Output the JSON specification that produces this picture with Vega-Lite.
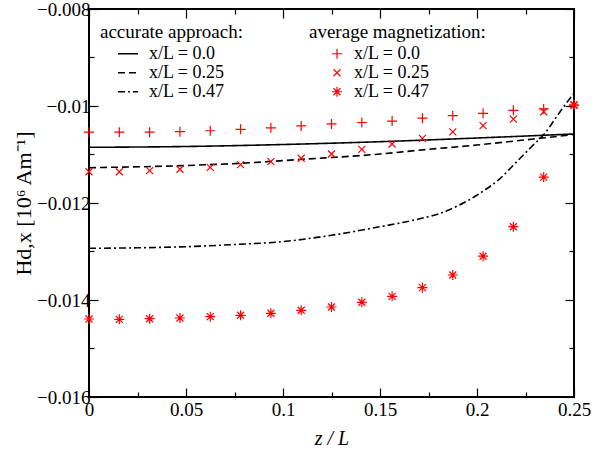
{
  "$schema": "https://vega.github.io/schema/vega-lite/v6.json",
  "width": 485,
  "height": 388,
  "autosize": "none",
  "padding": {"left": 89, "top": 9, "right": 41, "bottom": 55},
  "background": "white",
  "config": {
    "font": "Liberation Serif",
    "view": {"stroke": "black", "strokeWidth": 2},
    "axis": {"grid": false, "domain": false, "labelColor": "black", "tickColor": "black", "titleColor": "black", "labelFont": "Liberation Serif", "titleFont": "Liberation Serif", "labelFontSize": 19, "titleFontWeight": "normal", "labelFlush": false, "labelOverlap": false, "tickWidth": 1.2},
    "legend": {"labelFont": "Liberation Serif", "titleFont": "Liberation Serif", "labelColor": "black", "titleColor": "black", "titleFontWeight": "normal", "titleFontSize": 19, "labelFontSize": 18, "padding": 0, "rowPadding": 0, "titlePadding": 3, "clipHeight": 17.5}
  },
  "datasets": {
    "curves": [
      {"z": 0, "H": -0.010852, "curve": "acc 0.0"},
      {"z": 0.05, "H": -0.010835, "curve": "acc 0.0"},
      {"z": 0.1, "H": -0.010794, "curve": "acc 0.0"},
      {"z": 0.15, "H": -0.010736, "curve": "acc 0.0"},
      {"z": 0.2, "H": -0.01066, "curve": "acc 0.0"},
      {"z": 0.25, "H": -0.010577, "curve": "acc 0.0"},
      {"z": 0, "H": -0.011272, "curve": "acc 0.25"},
      {"z": 0.05, "H": -0.011227, "curve": "acc 0.25"},
      {"z": 0.078, "H": -0.011181, "curve": "acc 0.25"},
      {"z": 0.11, "H": -0.011099, "curve": "acc 0.25"},
      {"z": 0.15, "H": -0.01099, "curve": "acc 0.25"},
      {"z": 0.17, "H": -0.010912, "curve": "acc 0.25"},
      {"z": 0.2, "H": -0.010804, "curve": "acc 0.25"},
      {"z": 0.235, "H": -0.010654, "curve": "acc 0.25"},
      {"z": 0.25, "H": -0.010588, "curve": "acc 0.25"},
      {"z": 0, "H": -0.012934, "curve": "acc 0.47"},
      {"z": 0.025, "H": -0.012924, "curve": "acc 0.47"},
      {"z": 0.05, "H": -0.012901, "curve": "acc 0.47"},
      {"z": 0.075, "H": -0.012856, "curve": "acc 0.47"},
      {"z": 0.1, "H": -0.012795, "curve": "acc 0.47"},
      {"z": 0.125, "H": -0.012665, "curve": "acc 0.47"},
      {"z": 0.15, "H": -0.012489, "curve": "acc 0.47"},
      {"z": 0.17, "H": -0.01233, "curve": "acc 0.47"},
      {"z": 0.18, "H": -0.012225, "curve": "acc 0.47"},
      {"z": 0.19, "H": -0.01206, "curve": "acc 0.47"},
      {"z": 0.2015, "H": -0.0118, "curve": "acc 0.47"},
      {"z": 0.212, "H": -0.011491, "curve": "acc 0.47"},
      {"z": 0.2205, "H": -0.011148, "curve": "acc 0.47"},
      {"z": 0.229, "H": -0.010804, "curve": "acc 0.47"},
      {"z": 0.235, "H": -0.010563, "curve": "acc 0.47"},
      {"z": 0.241, "H": -0.010221, "curve": "acc 0.47"},
      {"z": 0.246, "H": -0.009944, "curve": "acc 0.47"},
      {"z": 0.25, "H": -0.009738, "curve": "acc 0.47"}
    ],
    "avg": [
      {"z": 0, "H": -0.01054, "set": "avg 0.0"},
      {"z": 0.015625, "H": -0.01054, "set": "avg 0.0"},
      {"z": 0.03125, "H": -0.01054, "set": "avg 0.0"},
      {"z": 0.046875, "H": -0.01053, "set": "avg 0.0"},
      {"z": 0.0625, "H": -0.01051, "set": "avg 0.0"},
      {"z": 0.078125, "H": -0.01048, "set": "avg 0.0"},
      {"z": 0.09375, "H": -0.01045, "set": "avg 0.0"},
      {"z": 0.109375, "H": -0.01041, "set": "avg 0.0"},
      {"z": 0.125, "H": -0.01037, "set": "avg 0.0"},
      {"z": 0.140625, "H": -0.01034, "set": "avg 0.0"},
      {"z": 0.15625, "H": -0.01031, "set": "avg 0.0"},
      {"z": 0.171875, "H": -0.01025, "set": "avg 0.0"},
      {"z": 0.1875, "H": -0.0102, "set": "avg 0.0"},
      {"z": 0.203125, "H": -0.01015, "set": "avg 0.0"},
      {"z": 0.21875, "H": -0.01009, "set": "avg 0.0"},
      {"z": 0.234375, "H": -0.01006, "set": "avg 0.0"},
      {"z": 0.25, "H": -0.00998, "set": "avg 0.0"},
      {"z": 0, "H": -0.011355, "set": "avg 0.25"},
      {"z": 0.015625, "H": -0.011355, "set": "avg 0.25"},
      {"z": 0.03125, "H": -0.011334, "set": "avg 0.25"},
      {"z": 0.046875, "H": -0.011305, "set": "avg 0.25"},
      {"z": 0.0625, "H": -0.011264, "set": "avg 0.25"},
      {"z": 0.078125, "H": -0.01121, "set": "avg 0.25"},
      {"z": 0.09375, "H": -0.011148, "set": "avg 0.25"},
      {"z": 0.109375, "H": -0.011078, "set": "avg 0.25"},
      {"z": 0.125, "H": -0.01099, "set": "avg 0.25"},
      {"z": 0.140625, "H": -0.010893, "set": "avg 0.25"},
      {"z": 0.15625, "H": -0.010784, "set": "avg 0.25"},
      {"z": 0.171875, "H": -0.010666, "set": "avg 0.25"},
      {"z": 0.1875, "H": -0.010535, "set": "avg 0.25"},
      {"z": 0.203125, "H": -0.010406, "set": "avg 0.25"},
      {"z": 0.21875, "H": -0.01027, "set": "avg 0.25"},
      {"z": 0.234375, "H": -0.010118, "set": "avg 0.25"},
      {"z": 0.25, "H": -0.009979, "set": "avg 0.25"},
      {"z": 0, "H": -0.014392, "set": "avg 0.47"},
      {"z": 0.015625, "H": -0.014398, "set": "avg 0.47"},
      {"z": 0.03125, "H": -0.014386, "set": "avg 0.47"},
      {"z": 0.046875, "H": -0.014371, "set": "avg 0.47"},
      {"z": 0.0625, "H": -0.014344, "set": "avg 0.47"},
      {"z": 0.078125, "H": -0.014315, "set": "avg 0.47"},
      {"z": 0.09375, "H": -0.014274, "set": "avg 0.47"},
      {"z": 0.109375, "H": -0.014212, "set": "avg 0.47"},
      {"z": 0.125, "H": -0.014144, "set": "avg 0.47"},
      {"z": 0.140625, "H": -0.014047, "set": "avg 0.47"},
      {"z": 0.15625, "H": -0.013924, "set": "avg 0.47"},
      {"z": 0.171875, "H": -0.013746, "set": "avg 0.47"},
      {"z": 0.1875, "H": -0.013485, "set": "avg 0.47"},
      {"z": 0.203125, "H": -0.013097, "set": "avg 0.47"},
      {"z": 0.21875, "H": -0.012489, "set": "avg 0.47"},
      {"z": 0.234375, "H": -0.011465, "set": "avg 0.47"},
      {"z": 0.25, "H": -0.009979, "set": "avg 0.47"}
    ]
  },
  "layer": [
    {
      "data": {"name": "curves"},
      "mark": {"type": "line", "color": "black", "strokeWidth": 1.6, "interpolate": "monotone"},
      "encoding": {
        "x": {
          "field": "z", "type": "quantitative",
          "scale": {"domain": [0, 0.25], "nice": false, "zero": false},
          "axis": {
            "orient": "bottom",
            "values": [0, 0.025, 0.05, 0.075, 0.1, 0.125, 0.15, 0.175, 0.2, 0.225, 0.25],
            "labelExpr": "abs(datum.value*20-round(datum.value*20))<1e-6 ? format(datum.value,'.2~f') : ''",
            "tickSize": {"condition": {"test": "abs(datum.value*20-round(datum.value*20))<1e-6", "value": -9}, "value": -5},
            "labelPadding": 12,
            "title": "z / L",
            "titleFontStyle": "italic",
            "titleFontSize": 20,
            "titlePadding": 5
          }
        },
        "y": {
          "field": "H", "type": "quantitative",
          "scale": {"domain": [-0.016, -0.008], "nice": false, "zero": false},
          "axis": {
            "orient": "left",
            "values": [-0.016, -0.015, -0.014, -0.013, -0.012, -0.011, -0.01, -0.009, -0.008],
            "labelExpr": "abs(datum.value*500-round(datum.value*500))<1e-6 ? format(datum.value,'.3~f') : ''",
            "tickSize": {"condition": {"test": "abs(datum.value*500-round(datum.value*500))<1e-6", "value": -9}, "value": -5},
            "labelPadding": 8,
            "title": "Hd,x [10⁶ Am⁻¹]",
            "titleFontSize": 22,
            "titlePadding": 1
          }
        },
        "strokeDash": {
          "field": "curve", "type": "nominal",
          "scale": {"domain": ["acc 0.0", "acc 0.25", "acc 0.47"], "range": [[1, 0], [7, 4], [7, 3, 2, 3]]},
          "legend": {
            "title": "accurate approach:",
            "orient": "none", "legendX": 11, "legendY": 14,
            "labelExpr": "'x/L = ' + substring(datum.label, 4)",
            "symbolType": "stroke", "symbolSize": 400, "symbolStrokeWidth": 1.6, "symbolStrokeColor": "black",
            "symbolOffset": 17, "labelOffset": 10
          }
        }
      }
    },
    {
      "data": {"name": "avg"},
      "mark": {"type": "point", "filled": false, "color": "#ff0000", "strokeWidth": 1.2, "size": 100, "opacity": 1},
      "encoding": {
        "x": {
          "field": "z", "type": "quantitative",
          "scale": {"domain": [0, 0.25], "nice": false, "zero": false},
          "axis": {
            "orient": "top",
            "values": [0, 0.025, 0.05, 0.075, 0.1, 0.125, 0.15, 0.175, 0.2, 0.225, 0.25],
            "labels": false,
            "tickSize": {"condition": {"test": "abs(datum.value*20-round(datum.value*20))<1e-6", "value": -9}, "value": -5},
            "title": null
          }
        },
        "y": {
          "field": "H", "type": "quantitative",
          "scale": {"domain": [-0.016, -0.008], "nice": false, "zero": false},
          "axis": {
            "orient": "right",
            "values": [-0.016, -0.015, -0.014, -0.013, -0.012, -0.011, -0.01, -0.009, -0.008],
            "labels": false,
            "tickSize": {"condition": {"test": "abs(datum.value*500-round(datum.value*500))<1e-6", "value": -9}, "value": -5},
            "title": null
          }
        },
        "shape": {
          "field": "set", "type": "nominal",
          "scale": {
            "domain": ["avg 0.0", "avg 0.25", "avg 0.47"],
            "range": ["M-1,0L1,0M0,-1L0,1", "M-0.7,-0.7L0.7,0.7M-0.7,0.7L0.7,-0.7", "M-1,0L1,0M0,-1L0,1M-0.7,-0.7L0.7,0.7M-0.7,0.7L0.7,-0.7"]
          },
          "legend": {
            "title": "average magnetization:",
            "orient": "none", "legendX": 220, "legendY": 14,
            "labelExpr": "'x/L = ' + substring(datum.label, 4)",
            "symbolSize": 100, "symbolStrokeWidth": 1.2, "symbolStrokeColor": "#ff0000", "symbolFillColor": "transparent",
            "symbolOffset": 19, "labelOffset": 8
          }
        }
      }
    }
  ],
  "resolve": {"axis": {"x": "independent", "y": "independent"}}
}
